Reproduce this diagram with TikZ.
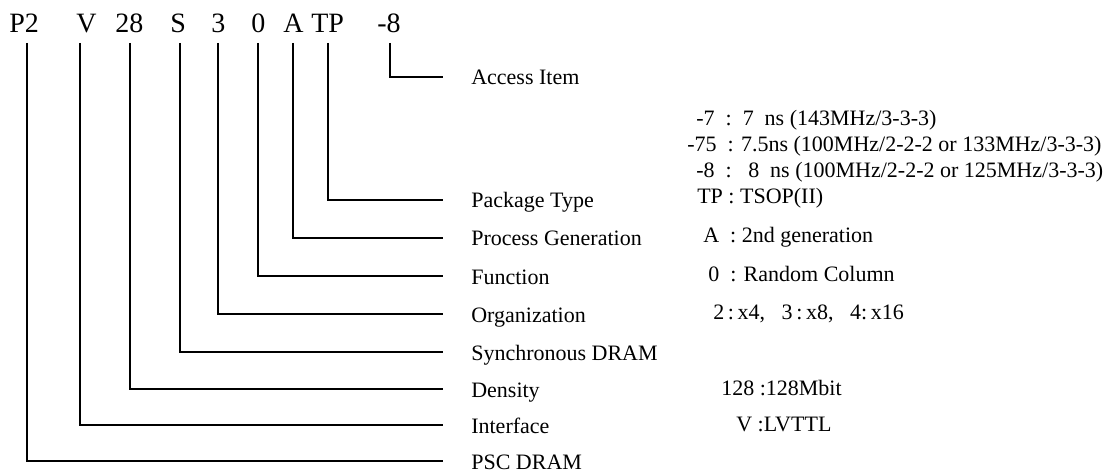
\documentclass[tikz,border=0pt]{standalone}
\usepackage{fontspec}
\setmainfont{Liberation Serif}
\begin{document}
\begin{tikzpicture}[x=1pt,y=-1pt,line width=2.6pt,
    code/.style={anchor=base west,inner sep=0pt,font=\fontsize{28}{30}\selectfont},
    item/.style={anchor=west,inner sep=0pt,text height=16pt,text depth=0pt,font=\fontsize{22}{25}\selectfont},
    val/.style={anchor=base west,inner sep=0pt,font=\fontsize{22}{25}\selectfont}]
  \useasboundingbox (0,0) rectangle (1106,473);
  % part number
  \draw
    (8,33) node[code] (P2){P2}
    (75,33) node[code] (V){V}
    (114,33) node[code] (28){28}
    (169,33) node[code] (S){S}
    (210,33) node[code] (3){3}
    (250,33) node[code] (0){0}
    (282,33) node[code] (A){A}
    (310,33) node[code] (TP){TP}
    (376,33) node[code] (8){-8};
  % fields
  \draw
    (470,77) node[item] (acc){Access Item}
    (470,200) node[item] (pkg){Package Type}
    (470,238) node[item] (proc){Process Generation}
    (470,276) node[item] (func){Function}
    (470,314) node[item] (org){Organization}
    (470,352) node[item] (sync){Synchronous DRAM}
    (470,389) node[item] (dens){Density}
    (470,425) node[item] (intf){Interface}
    (470,461) node[item] (psc){PSC DRAM};
  % values
  \draw
    (695,126) node[val] (v7){-7 \ :\ \ 7\ \ ns (143MHz/3-3-3)}
    (686,152) node[val] (v75){-75\ \ : 7.5ns (100MHz/2-2-2 or 133MHz/3-3-3)}
    (695,178) node[val] (v8){-8\ \ :\ \ \ 8\ \ ns (100MHz/2-2-2 or 125MHz/3-3-3)}
    (696,204) node[val] (vTP){TP : TSOP(II)}
    (702,243) node[val] (vA){A\ \ : 2nd generation}
    (707,281) node[val] (v0){0\ \ : Random Column}
    (712,319) node[val] (vorg){2\,:\,x4,\ \ \ 3\,:\,x8,\ \ \ 4:\,x16}
    (720,395) node[val] (v128){128 :128Mbit}
    (735,431) node[val] (vV){V :LVTTL};
  % where the lines leave the part number
  \coordinate (tP2) at (27,43);
  \coordinate (tV) at (80,43);
  \coordinate (t28) at (130,43);
  \coordinate (tS) at (180,43);
  \coordinate (t3) at (218,43);
  \coordinate (t0) at (258,43);
  \coordinate (tA) at (293,43);
  \coordinate (tTP) at (328,43);
  \coordinate (t8) at (390,43);
  \begin{scope}[-]
    \draw (t8) |- ([xshift=-27pt]acc.west);
    \draw (tTP) |- ([xshift=-27pt]pkg.west);
    \draw (tA) |- ([xshift=-27pt]proc.west);
    \draw (t0) |- ([xshift=-27pt]func.west);
    \draw (t3) |- ([xshift=-27pt]org.west);
    \draw (tS) |- ([xshift=-27pt]sync.west);
    \draw (t28) |- ([xshift=-27pt]dens.west);
    \draw (tV) |- ([xshift=-27pt]intf.west);
    \draw (tP2) |- ([xshift=-27pt]psc.west);
  \end{scope}
\end{tikzpicture}
\end{document}
